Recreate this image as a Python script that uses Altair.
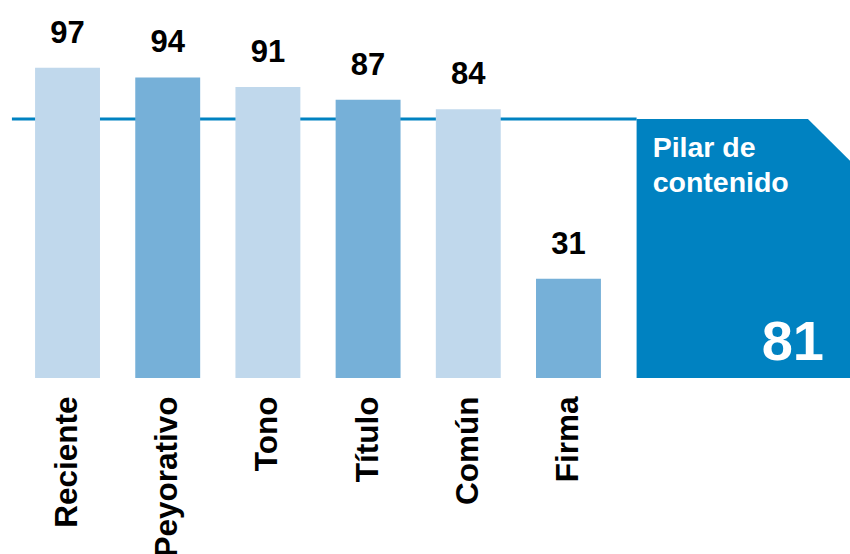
import altair as alt
import pandas as pd

categories = ["Reciente", "Peyorativo", "Tono", "Título", "Común", "Firma"]
values = [97, 94, 91, 87, 84, 31]
shades = ["light", "medium", "light", "medium", "light", "medium"]
pillar_label = ["Pilar de", "contenido"]
pillar_value = 81

FONT = "Liberation Sans"
LIGHT = "#c0d8ec"
MEDIUM = "#76b0d8"
DARK = "#0082c1"

bars_df = pd.DataFrame({"cat": categories, "value": values, "shade": shades,
                        "pos": list(range(len(categories)))})

# x in "slot" units (one slot per category), y in value units
X_DOMAIN = [-0.674, 7.81]
Y_DOMAIN = [0, 118.2]
xs = alt.Scale(domain=X_DOMAIN, nice=False, zero=False)
ys = alt.Scale(domain=Y_DOMAIN, nice=False, zero=False)

label_expr = "[" + ",".join(f"'{c}'" for c in categories) + "][datum.value]"
xaxis = alt.Axis(values=list(range(len(categories))), labelExpr=label_expr,
                 labelAngle=270, labelFont=FONT, labelFontSize=31.5,
                 labelFontWeight="bold", labelColor="black", labelPadding=18,
                 labelAlign="right", labelBaseline="middle",
                 domain=False, ticks=False, grid=False, title=None,
                 labelOverlap=False, labelBound=False, labelFlush=False)

base = alt.Chart(bars_df)

rule_df = pd.DataFrame({"x0": [-0.555], "x1": [5.68], "y": [pillar_value]})
rule = alt.Chart(rule_df).mark_rule(color=DARK, strokeWidth=3).encode(
    x=alt.X("x0:Q", scale=xs, axis=xaxis),
    x2="x1:Q",
    y=alt.Y("y:Q", scale=ys, axis=None),
)

bars = base.transform_calculate(
    x0="datum.pos - 0.324", x1="datum.pos + 0.324"
).mark_rect().encode(
    x=alt.X("x0:Q", scale=xs, axis=xaxis),
    x2="x1:Q",
    y=alt.Y("value:Q", scale=ys, axis=None),
    y2=alt.datum(0),
    color=alt.Color("shade:N", scale=alt.Scale(domain=["light", "medium"], range=[LIGHT, MEDIUM]), legend=None),
)

value_text = base.mark_text(font=FONT, fontSize=31, fontWeight="bold", color="black",
                            baseline="alphabetic", dy=-25).encode(
    x=alt.X("pos:Q", scale=xs, axis=xaxis),
    y=alt.Y("value:Q", scale=ys, axis=None),
    text="value:Q",
)

# pillar box with cut corner
box_df = pd.DataFrame({"x": [5.68, 7.39, 7.81], "y": [pillar_value, pillar_value, pillar_value - 13.1]})
box = alt.Chart(box_df).mark_area(color=DARK, opacity=1, interpolate="linear").encode(
    x=alt.X("x:Q", scale=xs, axis=xaxis),
    y=alt.Y("y:Q", scale=ys, axis=None),
    y2=alt.datum(0),
)

box_label = alt.Chart(pd.DataFrame({"x": [5.84], "y": [69.0], "t": [pillar_label]})).mark_text(
    font=FONT, fontSize=28.5, fontWeight="bold", color="white", align="left",
    baseline="alphabetic", lineHeight=35,
).encode(
    x=alt.X("x:Q", scale=xs, axis=xaxis),
    y=alt.Y("y:Q", scale=ys, axis=None),
    text="t",
)

box_value = alt.Chart(pd.DataFrame({"x": [7.55], "y": [5.6], "t": [pillar_value]})).mark_text(
    font=FONT, fontSize=56, fontWeight="bold", color="white", align="right",
    baseline="alphabetic",
).encode(
    x=alt.X("x:Q", scale=xs, axis=xaxis),
    y=alt.Y("y:Q", scale=ys, axis=None),
    text="t:Q",
)

chart = alt.layer(rule, bars, value_text, box, box_label, box_value).properties(
    width=850, height=378,
    autosize=alt.AutoSizeParams(type="none"),
    padding={"left": 0, "top": 0, "right": 0, "bottom": 176},
    background="white",
).configure_view(stroke=None)

chart.save("out.html", embed_options={"renderer": "svg", "actions": False})
